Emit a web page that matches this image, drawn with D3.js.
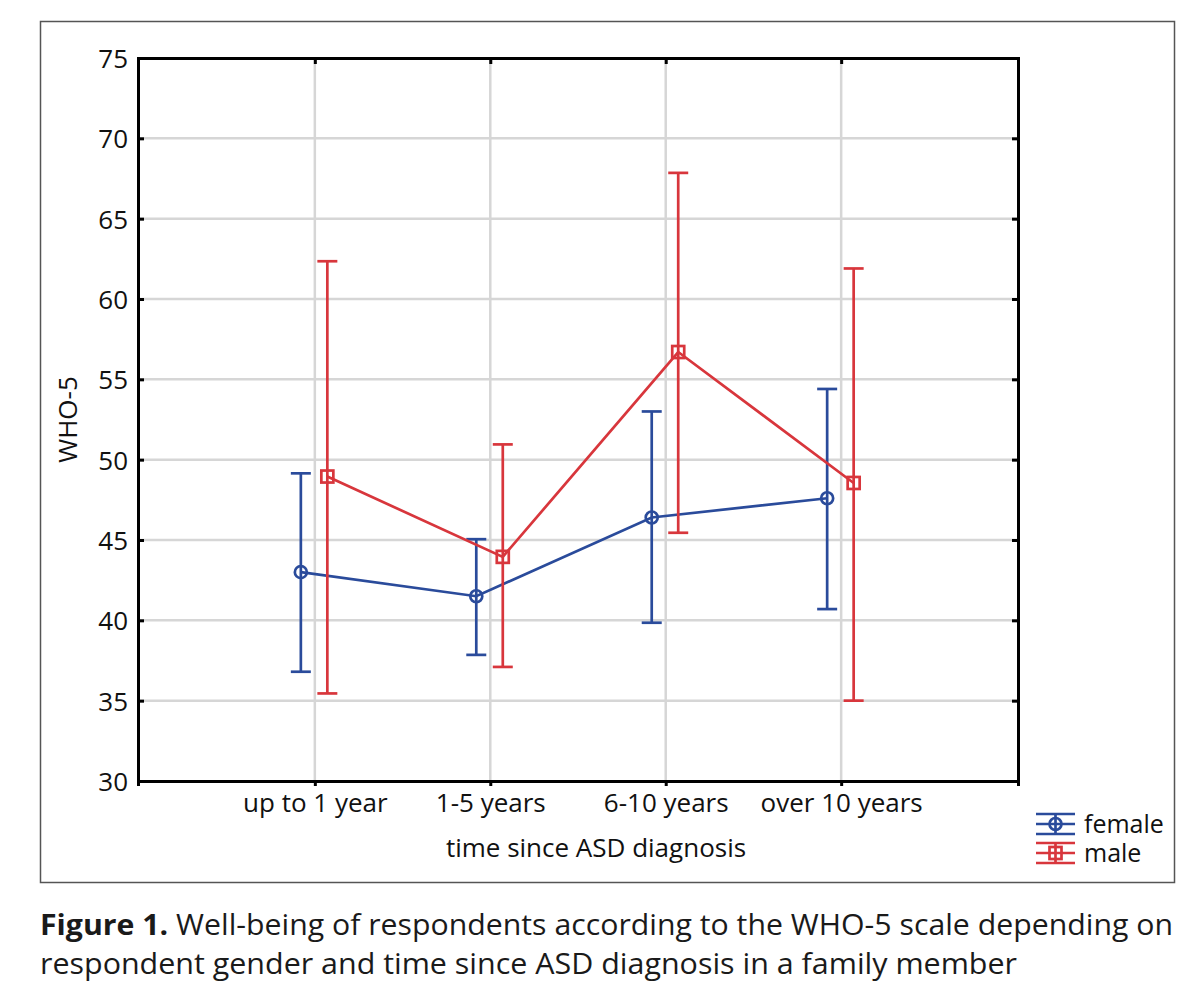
<!DOCTYPE html>
<meta charset="utf-8">
<head>
	<title>WHO-5 by gender and time since ASD diagnosis</title>
</head>

<style>

body {
	margin: 0;
	background: #fff;
}

svg, svg text {
	font-family: "Open Sans", "Noto Sans", sans-serif;
}

.grid line {
	stroke: #d6d6d6;
	stroke-width: 2.5;
}

.axis path, .axis line {
	stroke: #000;
	stroke-width: 3;
}

</style>

<body>

<svg class="chart" width="1200" height="1002"></svg>

<script src="https://cdnjs.cloudflare.com/ajax/libs/d3/7.8.5/d3.min.js"></script>
<script>

// data
var categories = ['up to 1 year', '1-5 years', '6-10 years', 'over 10 years'];

var female_mean = [43.0, 41.5, 46.4, 47.6];
var female_low  = [36.8, 37.85, 39.85, 40.7];
var female_high = [49.15, 45.05, 53.0, 54.4];

var male_mean = [48.95, 43.95, 56.7, 48.55];
var male_low  = [35.45, 37.1, 45.45, 35.0];
var male_high = [62.35, 50.95, 67.85, 61.9];

var yTicks = [30, 35, 40, 45, 50, 55, 60, 65, 70, 75];

var blue = '#2a4b9b';
var red = '#d8363c';

var svg = d3.select('.chart');

// outer frame
svg.append('rect')
	.attr('x', 40.5).attr('y', 21.5)
	.attr('width', 1134).attr('height', 861)
	.attr('fill', 'none')
	.attr('stroke', '#555')
	.attr('stroke-width', 1.5);

var plotL = 138, plotT = 58, plotR = 1018, plotB = 781;

var y = d3.scaleLinear().domain([30, 75]).range([plotB, plotT]);

// category centres sit on the grid lines at 314, 490, 666, 841
var x = d3.scalePoint()
	.domain(categories)
	.range([plotL, plotR])
	.padding(1.008);

// gridlines
var grid = svg.append('g').attr('class', 'grid');
grid.selectAll('.hg')
	.data(yTicks.slice(1, -1))
	.enter().append('line')
	.attr('x1', plotL).attr('x2', plotR)
	.attr('y1', function(d){ return y(d); })
	.attr('y2', function(d){ return y(d); });
grid.selectAll('.vg')
	.data(categories)
	.enter().append('line')
	.attr('y1', plotT).attr('y2', plotB)
	.attr('x1', function(d){ return x(d); })
	.attr('x2', function(d){ return x(d); });

// axes
var yAxis = svg.append('g')
	.attr('class', 'axis')
	.attr('transform', 'translate(' + plotL + ',0)')
	.call(d3.axisLeft(y).tickValues(yTicks).tickSize(-6).tickPadding(10));
svg.append('g')
	.attr('class', 'axis')
	.attr('transform', 'translate(' + plotR + ',0)')
	.call(d3.axisRight(y).tickValues(yTicks).tickSize(-6).tickFormat(''));
svg.append('g')
	.attr('class', 'axis')
	.attr('transform', 'translate(0,' + plotB + ')')
	.call(d3.axisBottom(x).tickSize(5).tickPadding(8));
svg.append('g')
	.attr('class', 'axis')
	.attr('transform', 'translate(0,' + plotT + ')')
	.call(d3.axisBottom(x).tickSize(6).tickFormat(''));

svg.selectAll('.axis').attr('font-family', null);
svg.selectAll('.axis .domain').attr('stroke-width', 3);
svg.selectAll('.axis text')
	.attr('fill', '#111')
	.style('font-size', '26px');
yAxis.selectAll('text').attr('dy', '0.36em');

// axis titles
svg.append('text')
	.attr('transform', 'translate(77,' + ((plotT + plotB) / 2) + ') rotate(-90)')
	.attr('text-anchor', 'middle')
	.style('font-size', '26px')
	.attr('fill', '#111')
	.text('WHO-5');

svg.append('text')
	.attr('x', 596).attr('y', 857)
	.attr('text-anchor', 'middle')
	.style('font-size', '26px')
	.attr('fill', '#111')
	.text('time since ASD diagnosis');

// series
var series = [
	{name: 'female', color: blue, dx: -14, mean: female_mean, low: female_low, high: female_high, shape: 'circle'},
	{name: 'male',   color: red,  dx: 12.5, mean: male_mean,  low: male_low,  high: male_high,  shape: 'square'}
];

var line = d3.line()
	.x(function(d){ return d.x; })
	.y(function(d){ return y(d.v); });

series.forEach(function(s){
	var pts = categories.map(function(c, i){
		return {x: x(c) + s.dx, v: s.mean[i], lo: s.low[i], hi: s.high[i]};
	});
	var g = svg.append('g')
		.attr('stroke', s.color)
		.attr('stroke-width', 2.7)
		.attr('fill', 'none');

	// whiskers
	g.selectAll('.bar')
		.data(pts)
		.enter().append('line')
		.attr('x1', function(d){ return d.x; })
		.attr('x2', function(d){ return d.x; })
		.attr('y1', function(d){ return y(d.lo); })
		.attr('y2', function(d){ return y(d.hi); });
	g.selectAll('.capHi')
		.data(pts)
		.enter().append('line')
		.attr('x1', function(d){ return d.x - 10; })
		.attr('x2', function(d){ return d.x + 10; })
		.attr('y1', function(d){ return y(d.hi); })
		.attr('y2', function(d){ return y(d.hi); });
	g.selectAll('.capLo')
		.data(pts)
		.enter().append('line')
		.attr('x1', function(d){ return d.x - 10; })
		.attr('x2', function(d){ return d.x + 10; })
		.attr('y1', function(d){ return y(d.lo); })
		.attr('y2', function(d){ return y(d.lo); });

	g.append('path').attr('d', line(pts));

	if (s.shape === 'circle') {
		g.selectAll('.mk')
			.data(pts)
			.enter().append('circle')
			.attr('cx', function(d){ return d.x; })
			.attr('cy', function(d){ return y(d.v); })
			.attr('r', 6);
	} else {
		g.selectAll('.mk')
			.data(pts)
			.enter().append('rect')
			.attr('x', function(d){ return d.x - 6; })
			.attr('y', function(d){ return y(d.v) - 6; })
			.attr('width', 12).attr('height', 12);
	}
});

// legend
var legend = svg.append('g').attr('transform', 'translate(1036,824)');
series.forEach(function(s, i){
	var lg = legend.append('g')
		.attr('transform', 'translate(0,' + (i * 29) + ')')
		.attr('stroke', s.color)
		.attr('stroke-width', 2.7)
		.attr('fill', 'none');
	[-10, 0, 10].forEach(function(off){
		lg.append('line').attr('x1', 0).attr('x2', 39).attr('y1', off).attr('y2', off);
	});
	lg.append('line').attr('x1', 19.5).attr('x2', 19.5).attr('y1', -10).attr('y2', 10);
	if (s.shape === 'circle') {
		lg.append('circle').attr('cx', 19.5).attr('cy', 0).attr('r', 6);
	} else {
		lg.append('rect').attr('x', 13.5).attr('y', -6).attr('width', 12).attr('height', 12);
	}
});
// both legend labels in one text block, one line each
var legendText = legend.append('text')
	.style('font-size', '25px')
	.attr('fill', '#111');
series.forEach(function(s, i){
	legendText.append('tspan')
		.attr('x', 48).attr('y', i * 29 + 9)
		.text(s.name);
});

// caption
var cap1 = svg.append('text')
	.attr('x', 40).attr('y', 935)
	.attr('textLength', 1133)
	.attr('lengthAdjust', 'spacingAndGlyphs')
	.style('font-size', '29px')
	.attr('fill', '#1a1a1a');
cap1.append('tspan').style('font-weight', 'bold').text('Figure 1.');
cap1.append('tspan').text(' Well-being of respondents according to the WHO-5 scale depending on');

svg.append('text')
	.attr('x', 40).attr('y', 974)
	.attr('textLength', 977)
	.attr('lengthAdjust', 'spacingAndGlyphs')
	.style('font-size', '29px')
	.attr('fill', '#1a1a1a')
	.text('respondent gender and time since ASD diagnosis in a family member');

</script>

</body>
</html>
